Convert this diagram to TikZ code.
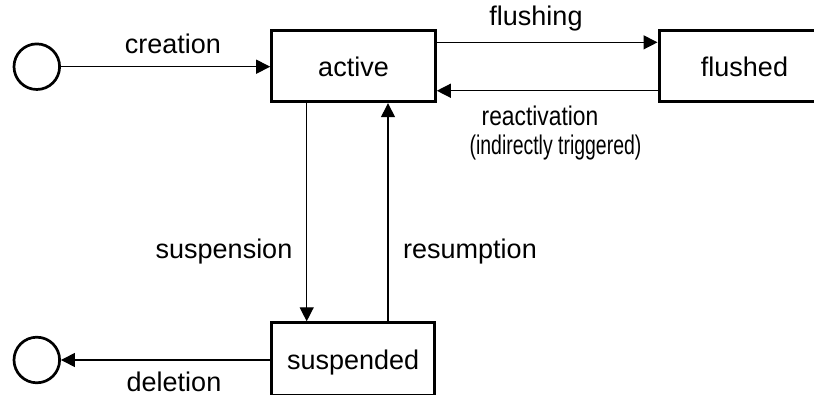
\documentclass[tikz,border=0pt]{standalone}
\usepackage{fontspec}
\setmainfont{Liberation Sans}
\usetikzlibrary{arrows.meta}
\begin{document}
\begin{tikzpicture}[x=0.5pt,y=-0.5pt,
  every node/.style={font=\fontsize{13.5pt}{16pt}\selectfont},
  state/.style={draw, rectangle, line width=1.5pt, inner sep=0pt,
                text height=13pt, text depth=2.65pt},
  pseudo/.style={draw, circle, line width=1.35pt, minimum size=22.8pt, inner sep=0pt},
  trans/.style={line width=0.65pt, -{Triangle[length=7pt,width=7pt]}},
  tlabel/.style={anchor=base, inner sep=0pt}
]
\useasboundingbox (0,0) rectangle (814,395);
\clip (0,0) rectangle (814,395);

% states
\node[pseudo] (init) at (36.8,66.7) {};
\node[state, minimum width=81.8pt, minimum height=35.35pt] (active) at (353.5,66.35) {active};
\node[state, minimum width=85.5pt, minimum height=35.35pt] (flushed) at (744.5,66.35) {flushed};
\node[state, minimum width=81.5pt, minimum height=36.15pt] (suspended) at (353.2,358.95) {suspended};
\node[pseudo] (final) at (36.8,360) {};

% transitions
\draw[trans] (init) -- (init -| active.west);
\draw[trans] ([yshift=12pt]active.east) -- ([yshift=12pt]flushed.west);
\draw[trans] ([yshift=-12.2pt]flushed.west) -- ([yshift=-12.2pt]active.east);
\draw[trans] ([xshift=-23.4pt]active.south) -- ([xshift=-23.4pt]active.south |- suspended.north);
\draw[trans] ([xshift=17.25pt]active.south |- suspended.north) -- ([xshift=17.25pt]active.south);
\draw[trans] (final -| suspended.west) -- (final);

% transition labels
\node[tlabel] (lcreate) at (173,53.3) {creation};
\node[tlabel] (lflush) at (536,26) {flushing};
\node[tlabel] (lreact) at (540,126) {\scalebox{0.845}[1]{reactivation}};
\node[tlabel] (lreact2) at (555.5,155) {\scalebox{0.72}[1]{(indirectly triggered)}};
\node[tlabel] (lsusp) at (224,258.3) {suspension};
\node[tlabel] (lres) at (470,258.3) {resumption};
\node[tlabel] (ldel) at (174,392) {deletion};
\end{tikzpicture}
\end{document}
